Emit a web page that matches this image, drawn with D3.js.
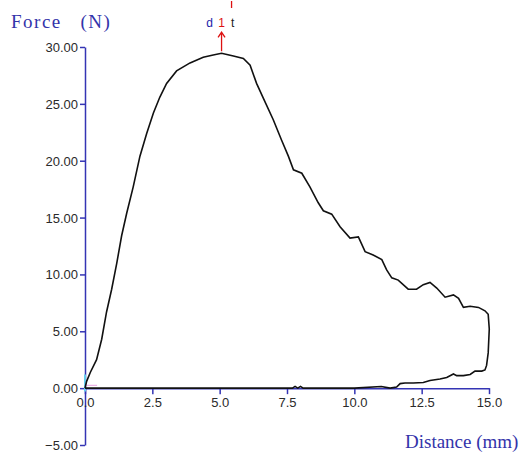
<!DOCTYPE html>
<html><head><meta charset="utf-8">
<script src="https://cdn.jsdelivr.net/npm/d3@7"></script>
<style>body{margin:0;background:#fff}svg{display:block}</style>
</head><body><svg id="c" width="524" height="458"></svg>
<script>
// Loading curve then unloading return (distance mm, force N)
const distance = [0,0.06,0.2,0.43,0.62,0.8,0.99,1.18,1.36,1.55,1.79,2.04,2.29,2.54,2.78,3.03,3.4,3.9,4.39,4.76,5.07,5.51,5.88,6.13,6.37,6.62,6.99,7.3,7.55,7.74,8.05,8.35,8.66,8.85,9.16,9.47,9.84,10.15,10.4,10.7,11.02,11.2,11.39,11.63,12.0,12.31,12.56,12.81,13.06,13.37,13.68,13.87,14.05,14.3,14.61,14.85,14.97,15.01,14.97,14.91,14.85,14.73,14.48,14.3,14.05,13.8,13.68,13.43,13.18,12.81,12.56,12.19,11.88,11.7,11.57,11.33,11.0,10.0,9.0,8.1,8.0,7.9,7.8,7.7,5.0,2.5,0];
const force    = [0,0.6,1.4,2.5,4.3,6.7,8.7,11.0,13.4,15.4,17.7,20.4,22.4,24.2,25.6,26.8,27.9,28.6,29.1,29.3,29.45,29.2,29.0,28.4,26.8,25.5,23.6,21.8,20.4,19.2,18.9,17.7,16.3,15.6,15.3,14.2,13.2,13.3,12.0,11.7,11.3,10.4,9.7,9.5,8.7,8.7,9.1,9.3,8.8,8.0,8.2,7.9,7.1,7.2,7.1,6.8,6.5,5.2,3.1,2.0,1.6,1.5,1.5,1.2,1.1,1.1,1.25,0.94,0.8,0.67,0.5,0.45,0.45,0.4,0.1,0,0.15,0,0,0,0.15,0,0.15,0,0,0,0];
const xTicks = [0, 2.5, 5.0, 7.5, 10.0, 12.5, 15.0];
const yTicks = [-5, 0, 5, 10, 15, 20, 25, 30];
const peakLabels = ["d", "1", "t"];

const svg = d3.select("#c");
const x = d3.scaleLinear().domain([0, 15]).range([85, 489]);
const y = d3.scaleLinear().domain([-5, 30]).range([445, 47]);
const axisBlue = "#3434b4";

// y axis
const ya = svg.append("g").attr("transform", `translate(${x(0)},0)`)
  .call(d3.axisLeft(y).tickValues(yTicks).tickSize(5).tickPadding(2).tickFormat(d3.format(".2f")).tickSizeOuter(0));
ya.select(".domain").attr("stroke", axisBlue).attr("stroke-width", 1.5);
ya.selectAll(".tick line").attr("stroke", axisBlue).attr("stroke-width", 1.5);
ya.selectAll(".tick text").attr("fill", "#2a2a2a").style("font-family", "Liberation Sans, Arial, sans-serif").style("font-size", "13px").attr("dy", "0.35em");

// x axis
const xa = svg.append("g").attr("transform", `translate(0,${y(0)})`)
  .call(d3.axisBottom(x).tickValues(xTicks).tickSize(6).tickPadding(4).tickFormat(d3.format(".1f")).tickSizeOuter(0));
xa.select(".domain").attr("stroke", axisBlue).attr("stroke-width", 1.5);
xa.selectAll(".tick line").attr("stroke", axisBlue).attr("stroke-width", 1.5);
xa.selectAll(".tick text").attr("fill", "#2a2a2a").style("font-family", "Liberation Sans, Arial, sans-serif").style("font-size", "13px");

// small origin markers
svg.append("line").attr("x1", x(0)).attr("x2", x(0)).attr("y1", y(1.2)).attr("y2", y(-0.3))
  .attr("stroke", "#66ccee").attr("stroke-width", 2);
svg.append("line").attr("x1", x(0)).attr("x2", x(0.45)).attr("y1", y(0.25)).attr("y2", y(0.25))
  .attr("stroke", "#e8a0e0").attr("stroke-width", 1);

// data curve
const pts = distance.map((d, i) => [d, force[i]]);
svg.append("path").datum(pts)
  .attr("d", d3.line().x(d => x(d[0])).y(d => y(d[1])).curve(d3.curveLinear))
  .attr("fill", "none").attr("stroke", "#111").attr("stroke-width", 1.6);

// peak marker
const pk = d3.maxIndex(force);
const px = x(distance[pk]), py = y(force[pk]);
svg.append("line").attr("x1", px).attr("x2", px).attr("y1", py - 2).attr("y2", py - 20)
  .attr("stroke", "#dd1111").attr("stroke-width", 1.3);
svg.append("path").attr("d", `M${px - 3.5},${py - 16}L${px},${py - 21}L${px + 3.5},${py - 16}`)
  .attr("fill", "none").attr("stroke", "#dd1111").attr("stroke-width", 1.3);
const lblColors = ["#2222aa", "#dd1111", "#222"];
const lblOff = [-12, 0, 11];
peakLabels.forEach((t, i) => {
  svg.append("text").attr("x", px + lblOff[i]).attr("y", 27).attr("text-anchor", "middle")
    .attr("fill", lblColors[i]).style("font-family", "Liberation Sans, Arial, sans-serif")
    .style("font-size", "12px").text(t);
});
svg.append("line").attr("x1", px + 10).attr("x2", px + 10).attr("y1", 1).attr("y2", 8)
  .attr("stroke", "#dd1111").attr("stroke-width", 1.3);

// titles
svg.append("text").attr("x", 11).attr("y", 28).attr("fill", "#3333aa")
  .style("font-family", "Liberation Serif, Times New Roman, serif").style("font-size", "19px")
  .style("letter-spacing", "1.5px").attr("xml:space", "preserve").text("Force   (N)");
svg.append("text").attr("x", 405).attr("y", 448).attr("fill", "#3333aa")
  .style("font-family", "Liberation Serif, Times New Roman, serif").style("font-size", "19px")
  .text("Distance (mm)");
</script></body></html>
